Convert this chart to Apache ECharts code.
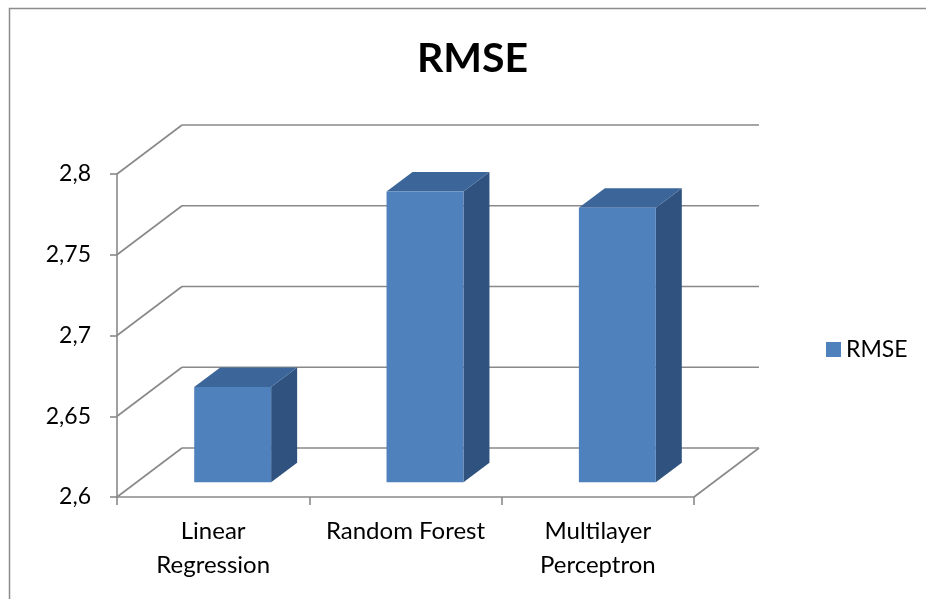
<!DOCTYPE html>
<html>
<head>
<meta charset="utf-8">
<script src="https://cdn.jsdelivr.net/npm/echarts@6/dist/echarts.min.js"></script>
<style>
  html, body { margin: 0; padding: 0; background: #ffffff; }
  #chart { width: 926px; height: 599px; }
</style>
</head>
<body>
<div id="chart"></div>
<script>
// ---- data ----
const categories = ['Linear\nRegression', 'Random Forest', 'Multilayer\nPerceptron'];
const rmseValues = [2.659, 2.78, 2.77];
const yTicks = [2.6, 2.65, 2.7, 2.75, 2.8];
const seriesName = 'RMSE';
const chartTitle = 'RMSE';

// ---- style / projection constants ----
const FONT = 'Lato';
const DEPTH_DX = 65;     // oblique depth offset (x) for full depth
const DEPTH_DY = -49;    // oblique depth offset (y) for full depth
const BAR_FRONT = 0.3;   // bar starts at this depth fraction
const BAR_DEPTH = 0.4;   // bar depth fraction
const BAR_WIDTH = 0.4;   // fraction of band
const GRID_COLOR = '#898989';
const FRONT = '#4F81BD', TOP = '#3C6699', SIDE = '#30527F';

const yMin = yTicks[0], yMax = yTicks[yTicks.length - 1];

const chart = echarts.init(document.getElementById('chart'), null, { renderer: 'canvas' });

function wallItem(params, api) {
  const cs = params.coordSys;
  const v = api.value(1);
  const y = api.coord([0, v])[1];
  const L = cs.x, R = cs.x + cs.width;
  const children = [
    { type: 'line', shape: { x1: L, y1: y, x2: L + DEPTH_DX, y2: y + DEPTH_DY },
      style: { stroke: GRID_COLOR, lineWidth: 1.6 } },
    { type: 'line', shape: { x1: L + DEPTH_DX, y1: y + DEPTH_DY, x2: R + DEPTH_DX, y2: y + DEPTH_DY },
      style: { stroke: GRID_COLOR, lineWidth: 1.6 } }
  ];
  if (v === yMin) {
    children.push({ type: 'line', shape: { x1: R, y1: y, x2: R + DEPTH_DX, y2: y + DEPTH_DY },
      style: { stroke: GRID_COLOR, lineWidth: 1.6 } });
  }
  return { type: 'group', children };
}

function barItem(params, api) {
  const idx = api.value(0);
  const val = api.value(1);
  const top = api.coord([idx, val]);
  const base = api.coord([idx, yMin]);
  const band = api.size([1, 0])[0];
  const w = band * BAR_WIDTH;
  const x0 = top[0] - w / 2 + DEPTH_DX * BAR_FRONT;
  const yt = top[1] + DEPTH_DY * BAR_FRONT;
  const yb = base[1] + DEPTH_DY * BAR_FRONT;
  const ddx = DEPTH_DX * BAR_DEPTH, ddy = DEPTH_DY * BAR_DEPTH;
  return {
    type: 'group',
    children: [
      { type: 'polygon', shape: { points: [[x0 + w, yt], [x0 + w + ddx, yt + ddy], [x0 + w + ddx, yb + ddy], [x0 + w, yb]] },
        style: { fill: SIDE } },
      { type: 'polygon', shape: { points: [[x0, yt], [x0 + w, yt], [x0 + w + ddx, yt + ddy], [x0 + ddx, yt + ddy]] },
        style: { fill: TOP } },
      { type: 'rect', shape: { x: x0, y: yt, width: w, height: yb - yt },
        style: { fill: FRONT } }
    ]
  };
}

const option = {
  backgroundColor: '#ffffff',
  animation: false,
  textStyle: { fontFamily: FONT },
  title: {
    text: chartTitle,
    left: 412,
    top: 33,
    padding: 5,
    textStyle: { fontFamily: FONT, fontWeight: 'bold', fontSize: 41, color: '#000000' }
  },
  legend: {
    data: [{ name: seriesName, icon: 'rect' }],
    left: 821,
    top: 333,
    itemWidth: 15,
    itemHeight: 15,
    textStyle: { fontFamily: FONT, fontSize: 23, color: '#000000' }
  },
  grid: { left: 117, right: 232, top: 174, bottom: 102, containLabel: false },
  xAxis: {
    type: 'category',
    data: categories,
    axisLine: { show: true, lineStyle: { color: GRID_COLOR, width: 1.6 } },
    axisTick: { show: true, length: 8, lineStyle: { color: GRID_COLOR, width: 1.6 } },
    axisLabel: { margin: 17, fontFamily: FONT, fontSize: 24, lineHeight: 34, color: '#000000', interval: 0 },
    splitLine: { show: false }
  },
  yAxis: {
    type: 'value',
    min: yMin,
    max: yMax,
    interval: 0.05,
    axisLine: { show: true, lineStyle: { color: GRID_COLOR, width: 1.6 } },
    axisTick: { show: true, length: 7, lineStyle: { color: GRID_COLOR, width: 1.6 } },
    axisLabel: {
      margin: 26, fontFamily: FONT, fontSize: 23, color: '#000000',
      formatter: v => String(+v.toFixed(2)).replace('.', ',')
    },
    splitLine: { show: false }
  },
  graphic: [
    { type: 'rect', left: 7, top: 6, shape: { width: 1000, height: 1000 },
      style: { fill: null, stroke: '#8c8c8c', lineWidth: 1.5 }, silent: true }
  ],
  series: [
    {
      name: 'walls',
      type: 'custom',
      renderItem: wallItem,
      data: yTicks.map(v => [0, v]),
      z: 1,
      silent: true
    },
    {
      name: seriesName,
      type: 'custom',
      renderItem: barItem,
      itemStyle: { color: FRONT },
      data: rmseValues.map((v, i) => [i, v]),
      z: 5
    }
  ]
};

chart.setOption(option);
</script>
</body>
</html>
